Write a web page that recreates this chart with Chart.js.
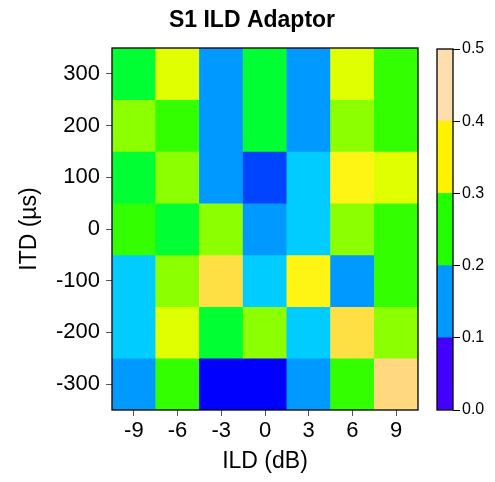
<!DOCTYPE html>
<html><head><meta charset="utf-8">
<script src="https://cdn.jsdelivr.net/npm/chart.js@4.4.1/dist/chart.umd.min.js"></script>
<style>
html,body{margin:0;padding:0;background:#fff;}
#wrap{position:relative;width:495px;height:482px;}
#main{position:absolute;left:0;top:0;}
#cbar{position:absolute;left:430px;top:0;}
</style></head>
<body>
<div id="wrap">
<div id="main" style="width:495px;height:482px"><canvas id="c1"></canvas></div>
<div id="cbar" style="width:65px;height:482px"><canvas id="c2"></canvas></div>
</div>
<script>
// ---- data ----
const chartTitle = 'S1 ILD Adaptor';
const ildLabels = ['-9','-6','-3','0','3','6','9'];
const itdTicks = [300, 200, 100, 0, -100, -200, -300];
const rowP300 = [0.21, 0.31, 0.13, 0.21, 0.13, 0.31, 0.24];
const rowP200 = [0.27, 0.24, 0.13, 0.21, 0.13, 0.27, 0.24];
const rowP100 = [0.21, 0.27, 0.13, 0.08, 0.17, 0.34, 0.31];
const row0    = [0.24, 0.21, 0.27, 0.13, 0.17, 0.27, 0.24];
const rowM100 = [0.17, 0.27, 0.38, 0.17, 0.34, 0.13, 0.24];
const rowM200 = [0.17, 0.31, 0.21, 0.27, 0.17, 0.38, 0.27];
const rowM300 = [0.13, 0.24, 0.03, 0.03, 0.13, 0.24, 0.42];
const rows = [rowP300, rowP200, rowP100, row0, rowM100, rowM200, rowM300];
const legendTicks = [0.0, 0.1, 0.2, 0.3, 0.4, 0.5];

// ---- colour styles ----
const cellColorStops = [
  [0.055, '#0000FF'], [0.105, '#0044FF'], [0.15, '#0099FF'], [0.19, '#00CCFF'],
  [0.225, '#00FF33'], [0.255, '#33FF00'], [0.29, '#8CFF00'], [0.325, '#E0FF00'],
  [0.36, '#FFF514'], [0.40, '#FFE044'], [1.0, '#FFD880']
];
const legendColors = ['#4400FF', '#0099FF', '#22FF00', '#FFF200', '#FFDEAE'];
function colorFor(v){ for (const [t,c] of cellColorStops) if (v < t) return c; return cellColorStops[cellColorStops.length-1][1]; }

const FONT = "'Liberation Sans', Arial, sans-serif";
Chart.defaults.font.family = FONT;
Chart.defaults.color = '#000';

const frame = {
  id: 'frame',
  afterDatasetsDraw(chart){
    const a = chart.chartArea, ctx = chart.ctx;
    ctx.save(); ctx.strokeStyle = '#000'; ctx.lineWidth = 1.3;
    ctx.strokeRect(a.left, a.top, a.right - a.left, a.bottom - a.top);
    ctx.restore();
  }
};
const titleDraw = {
  id: 'titleDraw',
  afterDraw(chart){
    const ctx = chart.ctx;
    ctx.save();
    ctx.font = "bold 23px " + FONT;
    ctx.fillStyle = '#000';
    ctx.textAlign = 'center';
    ctx.textBaseline = 'alphabetic';
    ctx.fillText(chartTitle, 252, 27);
    ctx.restore();
  }
};

const cellH = 100;
const datasets = rows.map((row, i) => ({
  data: row.map(() => [itdTicks[i] - cellH/2, itdTicks[i] + cellH/2]),
  backgroundColor: row.map(colorFor),
  borderWidth: 0,
  grouped: false,
  barPercentage: 1.0,
  categoryPercentage: 1.0
}));

new Chart(document.getElementById('c1'), {
  type: 'bar',
  data: { labels: ildLabels, datasets },
  plugins: [frame, titleDraw],
  options: {
    responsive: true, maintainAspectRatio: false, animation: false,
    layout: { padding: { left: 0, right: 77, top: 48, bottom: 0 } },
    plugins: {
      legend: { display: false }, tooltip: { enabled: false }, title: { display: false }
    },
    scales: {
      x: {
        type: 'category',
        grid: { display: true, drawOnChartArea: false, drawTicks: true, tickLength: 6, color: '#555', offset: false },
        border: { display: false },
        ticks: { font: { size: 22 }, color: '#000', padding: 2, maxRotation: 0 },
        title: { display: true, text: 'ILD (dB)', font: { size: 23 }, color: '#000', padding: { top: 0, bottom: 7 } },
        afterFit(s){ s.height = 72; }
      },
      y: {
        type: 'linear', min: -350, max: 350,
        afterBuildTicks(axis){ axis.ticks = itdTicks.map(v => ({ value: v })); },
        grid: { display: true, drawOnChartArea: false, drawTicks: true, tickLength: 6, color: '#555' },
        border: { display: false },
        ticks: { font: { size: 22 }, color: '#000', padding: 6 },
        title: { display: true, text: 'ITD (µs)', font: { size: 23 }, color: '#000', padding: { top: 16, bottom: 0 } },
        afterFit(s){ s.width = 112; }
      }
    }
  }
});

const legendSets = legendColors.map((c, i) => ({
  data: [[legendTicks[i], legendTicks[i+1]]],
  backgroundColor: c, borderWidth: 0, grouped: false,
  barPercentage: 1.0, categoryPercentage: 1.0
}));

new Chart(document.getElementById('c2'), {
  type: 'bar',
  data: { labels: ['scale'], datasets: legendSets },
  plugins: [frame],
  options: {
    responsive: true, maintainAspectRatio: false, animation: false,
    layout: { padding: { left: 7, right: 0, top: 49, bottom: 72 } },
    plugins: { legend: { display: false }, tooltip: { enabled: false } },
    scales: {
      x: { display: false },
      y: {
        type: 'linear', position: 'right', min: 0, max: 0.5,
        afterBuildTicks(axis){ axis.ticks = legendTicks.map(v => ({ value: v })); },
        grid: { display: true, drawOnChartArea: false, drawTicks: true, tickLength: 7, color: '#000' },
        border: { display: false },
        ticks: { font: { size: 16 }, color: '#000', padding: 2, callback: v => Number(v).toFixed(1) },
        afterFit(s){ s.width = 42; }
      }
    }
  }
});
</script>
</body></html>
